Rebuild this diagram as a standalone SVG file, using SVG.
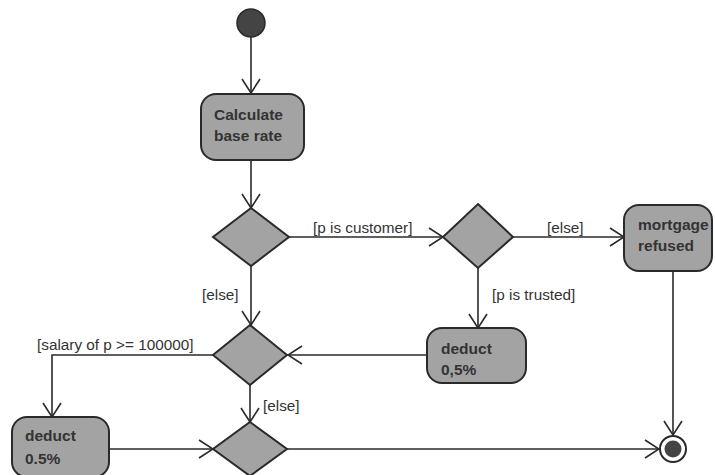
<svg xmlns="http://www.w3.org/2000/svg" width="715" height="475" viewBox="0 0 715 475">
<style>
.node{fill:#a3a3a3;stroke:#2a2a2a;stroke-width:2}
.lbl{font-family:"Liberation Sans",Arial,sans-serif;font-weight:bold;font-size:15.5px;fill:#333}
.grd{font-family:"Liberation Sans",Arial,sans-serif;font-size:15.3px;fill:#333}
.edge{fill:none;stroke:#2a2a2a;stroke-width:1.6}
</style>
<defs>
<marker id="arr" markerWidth="16" markerHeight="20" refX="15" refY="10" orient="auto" markerUnits="userSpaceOnUse">
<path d="M1,1 L15,10 L1,19" fill="none" stroke="#2a2a2a" stroke-width="1.6"/>
</marker>
</defs>
<rect width="715" height="475" fill="#fff"/>
<g id="connectors">
<path class="edge" d="M251,37 V93" marker-end="url(#arr)"/>
<path class="edge" d="M251,160 V208" marker-end="url(#arr)"/>
<path class="edge" d="M289,237 L443,237" marker-end="url(#arr)"/>
<path class="edge" d="M513,237 L624,237" marker-end="url(#arr)"/>
<path class="edge" d="M478,268 V328" marker-end="url(#arr)"/>
<path class="edge" d="M251,266 V325" marker-end="url(#arr)"/>
<path class="edge" d="M427,355 L288,355" marker-end="url(#arr)"/>
<path class="edge" d="M213,355 H52 V417" marker-end="url(#arr)"/>
<path class="edge" d="M250,385 V422" marker-end="url(#arr)"/>
<path class="edge" d="M110,449 L213,449" marker-end="url(#arr)"/>
<path class="edge" d="M287,449 L659,449" marker-end="url(#arr)"/>
<path class="edge" d="M673,271 V435" marker-end="url(#arr)"/>
<text class="grd" x="313" y="233">[p is customer]</text>
<text class="grd" x="547" y="233">[else]</text>
<text class="grd" x="202" y="300">[else]</text>
<text class="grd" x="492" y="300">[p is trusted]</text>
<text class="grd" x="37" y="350">[salary of p &gt;= 100000]</text>
<text class="grd" x="263" y="411">[else]</text>
</g>
<g id="start"><circle cx="251" cy="23" r="14" fill="#444" stroke="#2a2a2a" stroke-width="1.5"/></g>
<g id="calc">
<rect class="node" x="201" y="94" width="103" height="66" rx="15"/>
<text class="lbl" x="214" y="120">Calculate</text>
<text class="lbl" x="214" y="141">base rate</text>
</g>
<g id="d1"><path class="node" d="M251,208 L289,237 L251,266 L213,237 Z"/></g>
<g id="d2"><path class="node" d="M478,204 L513,237 L478,268 L443,237 Z"/></g>
<g id="refused">
<rect class="node" x="624" y="205" width="88" height="66" rx="15"/>
<text class="lbl" x="638" y="230">mortgage</text>
<text class="lbl" x="638" y="251">refused</text>
</g>
<g id="deduct1">
<rect class="node" x="427" y="328" width="99" height="55" rx="15"/>
<text class="lbl" x="441" y="354">deduct</text>
<text class="lbl" x="441" y="375">0,5%</text>
</g>
<g id="d3"><path class="node" d="M250,325 L287,355 L250,385 L213,355 Z"/></g>
<g id="deduct2">
<rect class="node" x="12" y="417" width="97" height="60" rx="15"/>
<text class="lbl" x="25" y="441">deduct</text>
<text class="lbl" x="25" y="464">0.5%</text>
</g>
<g id="d4"><path class="node" d="M250,422 L287,449 L250,476 L213,449 Z"/></g>
<g id="end">
<circle cx="673" cy="449" r="13" fill="#fff" stroke="#2a2a2a" stroke-width="2"/>
<circle cx="673" cy="449" r="8.5" fill="#444"/>
</g>
</svg>
